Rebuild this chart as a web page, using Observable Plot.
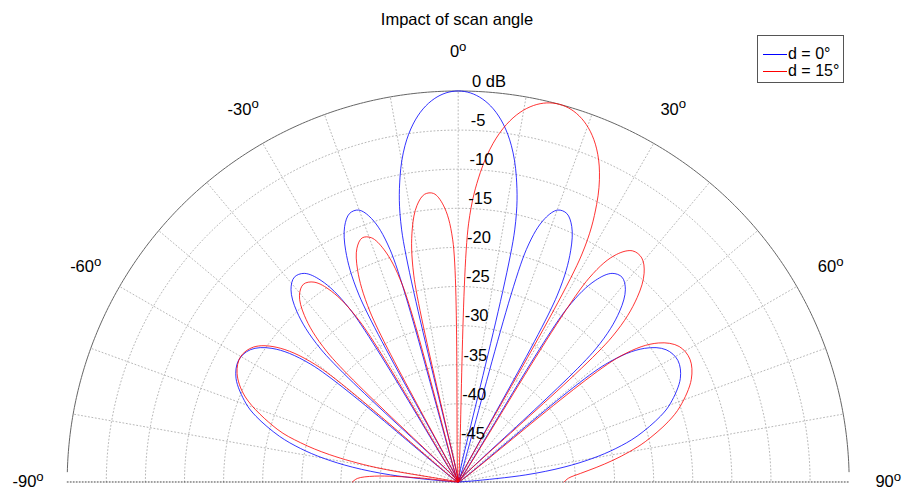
<!DOCTYPE html>
<html>
<head>
<meta charset="utf-8">
<script src="https://cdn.jsdelivr.net/npm/d3@7"></script>
<script src="https://cdn.jsdelivr.net/npm/@observablehq/plot@0.6"></script>
<style>
  body { margin: 0; background: #fff; font-family: "Liberation Sans", Arial, Helvetica, sans-serif; }
  #wrap { position: relative; width: 902px; height: 492px; overflow: hidden; }
  #title { position: absolute; left: 0; width: 914px; top: 9.5px; text-align: center; font-size: 16.5px; line-height: 19px; color: #000; }
  #legend { position: absolute; left: 757px; top: 35px; width: 85px; height: 46px; border: 1px solid #555; background: #fff; }
  .lg-line { position: absolute; left: 5px; width: 24px; height: 1px; }
  .lg-text { position: absolute; left: 30px; font-size: 16px; line-height: 18px; white-space: nowrap; }
</style>
</head>
<body>
<div id="wrap"></div>
<script>
// ---- data (angle in degrees, level in dB) ----
const seriesNames = ["d = 0°", "d = 15°"];
const seriesColors = ["#0000ff", "#ff0000"];

const blueAngles = [-90, -88, -86, -84, -82, -80, -78, -75.64, -72, -69.64, -64.99, -61.05, -57.54, -54.34, -51.38, -48.59,
  -45.95, -43.42, -41.01, -38.68, -36.42, -34.23, -32.09, -30, -27.95, -25.94, -23.97, -22.02, -20.11, -18.21, -16.34, -14.48,
  -12.64, -10.81, -8.99, -7.18, -5.38, -3.58, -1.79, 0, 1.79, 3.58, 5.38, 7.18, 8.99, 10.81, 12.64, 14.48,
  16.34, 18.21, 20.11, 22.02, 23.97, 25.94, 27.95, 30, 32.09, 34.23, 36.42, 38.68, 41.01, 43.42, 45.95, 48.59,
  51.38, 54.34, 57.54, 61.05, 64.99, 69.64, 72, 75.64, 78, 80, 82, 84, 86, 88, 90];
const blueDb = [-50, -50, -48.33, -41.31, -36.34, -32.50, -29.39, -26.39, -22.81, -21.03, -18.65, -17.89, -18.49, -20.69, -25.88, -50,
  -25.53, -19.98, -17.42, -16.46, -16.85, -18.84, -23.80, -50, -22.95, -17.12, -14.25, -12.96, -12.97, -14.54, -19.03, -50,
  -16.96, -10.33, -6.46, -3.87, -2.08, -0.90, -0.22, 0, -0.22, -0.90, -2.08, -3.87, -6.46, -10.33, -16.96, -50,
  -19.03, -14.54, -12.97, -12.96, -14.25, -17.12, -22.95, -50, -23.80, -18.84, -16.85, -16.46, -17.42, -19.98, -25.53, -50,
  -25.88, -20.69, -18.49, -17.89, -18.65, -21.03, -22.81, -26.39, -29.39, -32.50, -36.34, -41.31, -48.33, -50, -50];

const redAngles = [-90, -88, -86, -84, -82.39, -80, -78, -76, -73.73, -68.23, -63.82, -60.02, -56.61, -53.49, -50.57, -47.83,
  -45.23, -42.74, -40.35, -38.04, -35.80, -33.62, -31.50, -29.42, -27.38, -25.38, -23.42, -21.48, -19.57, -17.68, -15.81, -13.96,
  -12.12, -10.29, -8.48, -6.67, -4.87, -3.08, -1.29, 0.51, 2.30, 4.09, 5.89, 7.69, 9.50, 11.32, 13.15, 15,
  16.86, 18.74, 20.64, 22.57, 24.52, 26.51, 28.53, 30.59, 32.69, 34.84, 37.05, 39.33, 41.69, 44.13, 46.68, 49.36,
  52.19, 55.22, 58.49, 62.11, 66.22, 71.14, 74, 77.84, 80, 82, 84, 86, 88, 90];
const redDb = [-36.47, -37.09, -39.29, -44.95, -50, -39.35, -33.20, -29.21, -25.88, -20.69, -18.49, -17.89, -18.65, -21.03, -26.39, -50,
  -26.39, -21.03, -18.65, -17.89, -18.49, -20.69, -25.88, -50, -25.53, -19.98, -17.42, -16.46, -16.85, -18.84, -23.80, -50,
  -22.95, -17.12, -14.25, -12.96, -12.97, -14.54, -19.03, -50, -16.96, -10.33, -6.46, -3.87, -2.08, -0.90, -0.22, 0,
  -0.22, -0.90, -2.08, -3.87, -6.46, -10.33, -16.96, -50, -19.03, -14.54, -12.97, -12.96, -14.25, -17.12, -22.95, -50,
  -23.80, -18.84, -16.85, -16.46, -17.42, -19.98, -22.07, -25.53, -27.78, -30.00, -32.26, -34.34, -35.88, -36.47];

// ---- ticks ----
const dbTicks = [-45, -40, -35, -30, -25, -20, -15, -10, -5, 0];
const dbTickLabels = ["-45", "-40", "-35", "-30", "-25", "-20", "-15", "-10", "-5", "0 dB"];
const spokeAngles = [-80, -70, -60, -50, -40, -30, -20, -10, 0, 10, 20, 30, 40, 50, 60, 70, 80];
const angleTicks = [-90, -60, -30, 0, 30, 60, 90];
const dbFloor = -50;
const titleText = "Impact of scan angle";

// ---- helpers ----
const rad = Math.PI / 180;
const rho = db => Math.max(db, dbFloor) - dbFloor;
const px = (r, a) => r * Math.sin(a * rad);
const py = (r, a) => r * Math.cos(a * rad);

const rows = [];
blueAngles.forEach((a, i) => rows.push({series: seriesNames[0], a, r: rho(blueDb[i])}));
redAngles.forEach((a, i) => rows.push({series: seriesNames[1], a, r: rho(redDb[i])}));

const rMax = rho(0);
const circles = [];
dbTicks.filter(t => t < 0).forEach(t => {
  for (let a = -90; a <= 90; a += 1) circles.push({level: t, a, r: rho(t)});
});
const outer = [];
for (let a = -88.5; a <= 88.5; a += 0.5) outer.push({a, r: rMax});
const spokes = [];
spokeAngles.forEach(a => { spokes.push({a, r: 0}); spokes.push({a, r: rMax}); });
const baseLine = [{a: -90, r: rMax}, {a: 90, r: rMax}];

const chart = Plot.plot({
  width: 902,
  height: 492,
  margin: 0,
  x: {domain: [-58.53, 56.82], axis: null},
  y: {domain: [-1.343, 61.57], axis: null},
  color: {domain: seriesNames, range: seriesColors},
  style: {fontFamily: "'Liberation Sans', Arial, Helvetica, sans-serif", fontSize: "16.5px", background: "#fff", overflow: "visible"},
  marks: [
    Plot.line(circles, {x: d => px(d.r, d.a), y: d => py(d.r, d.a), z: "level", stroke: "#b8b8b8", strokeWidth: 1, strokeDasharray: "1,2.5"}),
    Plot.line(spokes, {x: d => px(d.r, d.a), y: d => py(d.r, d.a), z: "a", stroke: "#b8b8b8", strokeWidth: 1, strokeDasharray: "1,2.5"}),
    Plot.line(baseLine, {x: d => px(d.r, d.a), y: d => py(d.r, d.a), stroke: "#444", strokeWidth: 1, strokeDasharray: "1,2"}),
    Plot.line(outer, {x: d => px(d.r, d.a), y: d => py(d.r, d.a), stroke: "#666", strokeWidth: 1}),
    Plot.line(rows, {x: d => px(d.r, d.a), y: d => py(d.r, d.a), z: "series", stroke: "series", strokeWidth: 0.8, curve: "catmull-rom"}),
    Plot.text(dbTicks.map((t, i) => ({t, label: dbTickLabels[i]})), {
      x: d => 0.2 + px(rho(d.t), 1.8), y: d => py(rho(d.t), 1.8), text: "label",
      textAnchor: "start", dy: -9.5, fill: "#000", fontSize: 16.5
    }),
    Plot.text(angleTicks, {
      x: a => px(rMax * 1.1, a), y: a => py(rMax * 1.1, a), text: a => String(a),
      textAnchor: "middle", fill: "#000", fontSize: 16.5, className: "ang"
    })
  ]
});

d3.select(chart).selectAll(".ang text").each(function () {
  d3.select(this).append("tspan").attr("dy", "-0.5em").attr("font-size", "0.8em").text("o");
});

const wrap = document.getElementById("wrap");
wrap.appendChild(chart);

const title = document.createElement("div");
title.id = "title";
title.textContent = titleText;
wrap.appendChild(title);

const legend = document.createElement("div");
legend.id = "legend";
seriesNames.forEach((name, i) => {
  const cy = 18 + i * 17;
  const ln = document.createElement("div");
  ln.className = "lg-line";
  ln.style.top = (cy - 0.5) + "px";
  ln.style.background = seriesColors[i];
  legend.appendChild(ln);
  const tx = document.createElement("div");
  tx.className = "lg-text";
  tx.style.top = (cy - 9) + "px";
  tx.textContent = name;
  legend.appendChild(tx);
});
wrap.appendChild(legend);
</script>
</body>
</html>
